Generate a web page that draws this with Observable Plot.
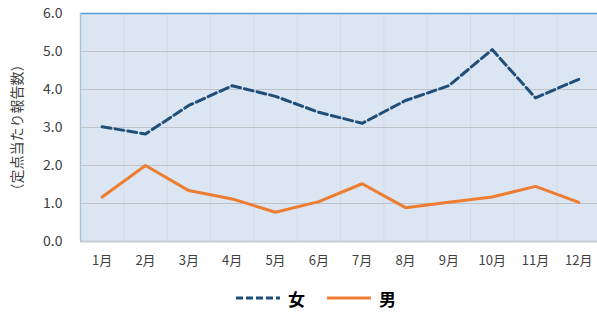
<!DOCTYPE html>
<html><head><meta charset="utf-8">
<script src="https://cdn.jsdelivr.net/npm/d3@7"></script>
<script src="https://cdn.jsdelivr.net/npm/@observablehq/plot@0.6"></script>
<style>
body{margin:0;background:#fff;font-family:"Noto Sans CJK JP","Noto Sans",sans-serif;}
#legend{height:36px;display:flex;align-items:center;justify-content:flex-start;padding-left:236px;box-sizing:border-box;font-weight:bold;font-size:17px;color:#000;}
#legend span{margin:0 10px 0 8px;}
</style></head>
<body><div id="chart"></div>
<div id="legend">
<svg width="44" height="10"><line x1="0" y1="5" x2="44" y2="5" stroke="#1f4e79" stroke-width="3" stroke-dasharray="7,3"/></svg><span>女</span>
<svg width="44" height="10" style="margin-left:12px"><line x1="0" y1="5" x2="44" y2="5" stroke="#ed7d31" stroke-width="3"/></svg><span>男</span>
</div>
<script>
const months = ["1月","2月","3月","4月","5月","6月","7月","8月","9月","10月","11月","12月"];
const female = [3.02, 2.83, 3.58, 4.10, 3.82, 3.40, 3.11, 3.71, 4.10, 5.05, 3.78, 4.27];
const male = [1.17, 2.00, 1.34, 1.12, 0.77, 1.05, 1.52, 0.89, 1.03, 1.17, 1.45, 1.03];
const yTicks = [0,1,2,3,4,5,6];
const yLabel = "（定点当たり報告数）";

const dataF = months.map((m,i)=>({i:i+1, v:female[i]}));
const dataM = months.map((m,i)=>({i:i+1, v:male[i]}));
const vGrid = months.slice(1).map((m,i)=>i+1.5);

const chart = Plot.plot({
  width:597, height:280,
  marginTop:13, marginBottom:39, marginLeft:80, marginRight:0,
  style:{fontFamily:'"Noto Sans CJK JP","Noto Sans",sans-serif', fontSize:"13px", color:"#404040", background:"#fff"},
  x:{domain:[0.5,12.5], range:[80,600], ticks:d3.range(1,13), tickFormat:d=>months[d-1], tickSize:0, tickPadding:14, label:null},
  y:{domain:[0,6], ticks:yTicks, tickFormat:d3.format(".1f"), tickSize:0, tickPadding:18, label:null},
  marks:[
    Plot.frame({fill:"#dce6f2", stroke:null}),
    Plot.ruleX(vGrid, {stroke:"#d3dbe4", strokeWidth:1}),
    Plot.ruleY([1,2,3,4,5], {stroke:"#bfc3c8", strokeWidth:1}),
    Plot.ruleY([0], {stroke:"#c8ccd2", strokeWidth:2}),
    Plot.ruleY([6], {stroke:"#5b9bd5", strokeWidth:1.5}),
    Plot.ruleX([0.5], {stroke:"#a9c0d8", strokeWidth:1.5}),
    Plot.line(dataF, {x:"i", y:"v", stroke:"#1f4e79", strokeWidth:3, strokeDasharray:"9,4"}),
    Plot.line(dataM, {x:"i", y:"v", stroke:"#ed7d31", strokeWidth:3}),
    Plot.text([yLabel], {frameAnchor:"left", dx:-63, rotate:-90, textAnchor:"middle", text:d=>d, fontSize:14, fill:"#404040"})
  ]
});
chart.querySelectorAll('[aria-label="y-axis tick label"] text').forEach(t=>t.setAttribute("font-size","14"));
document.getElementById("chart").appendChild(chart);
</script>
</body></html>
